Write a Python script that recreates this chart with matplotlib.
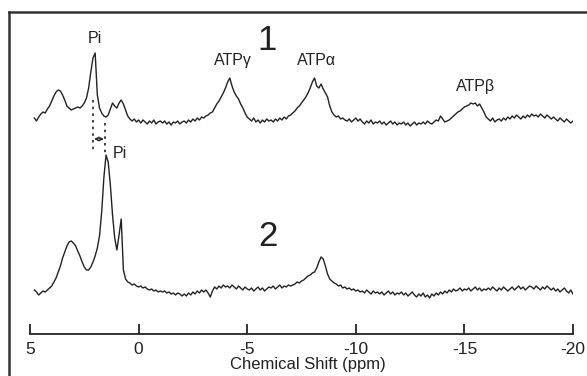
import matplotlib
matplotlib.use("Agg")
import matplotlib.pyplot as plt
import numpy as np
from matplotlib.lines import Line2D

plt.rcParams['font.family'] = ['Liberation Sans', 'DejaVu Sans']
plt.rcParams['axes.unicode_minus'] = False

# chemical shift range of the two traces (ppm), sampled every 0.1 ppm
ppm_start, ppm_end = 4.8, -20.0

# trace 1 intensity (arbitrary units, includes vertical offset)
trace1 = [
    216, 213, 217, 220, 222, 221, 225, 228, 233,
    238, 242, 244, 243, 239, 234, 228, 226, 224, 225,
    226, 227, 226, 228, 231, 236, 246, 262, 276, 281,
    239, 226, 221, 218, 217, 219, 225, 231, 228, 226,
    231, 234, 230, 224, 218, 215, 213, 215, 212, 214,
    211, 214, 212, 210, 213, 211, 214, 210, 212, 213,
    211, 213, 210, 212, 209, 212, 211, 213, 210, 212,
    213, 211, 214, 212, 215, 213, 216, 214, 217, 216,
    218, 219, 221, 222, 226, 230, 233, 237, 241, 246,
    252, 256, 248, 242, 238, 235, 230, 226, 221, 217,
    215, 213, 216, 212, 214, 211, 214, 212, 215, 213,
    214, 212, 215, 213, 216, 214, 217, 215, 218, 219,
    221, 223, 226, 228, 231, 234, 237, 241, 246, 252,
    256, 248, 246, 250, 245, 241, 237, 228, 222, 219,
    217, 218, 215, 216, 214, 213, 215, 212, 214, 216,
    213, 215, 212, 210, 213, 211, 214, 210, 212, 211,
    213, 210, 212, 209, 211, 213, 210, 212, 209, 211,
    210, 212, 209, 211, 208, 210, 212, 209, 211, 210,
    212, 210, 213, 211, 210, 212, 214, 213, 218, 215,
    212, 213, 214, 216, 218, 220, 222, 223, 225, 227,
    228, 229, 231, 230, 231, 228, 230, 226, 222, 217,
    215, 213, 216, 212, 214, 215, 213, 216, 214, 217,
    215, 218, 216, 219, 217, 215, 218, 216, 219, 217,
    220, 218, 219, 217, 220, 218, 216, 219, 217, 215,
    217, 215, 213, 216, 214, 212, 215, 213, 211, 213,
]

# trace 2 intensity
trace2 = [
    44, 42, 39, 41, 43, 42, 44, 46, 48,
    52, 56, 62, 68, 76, 82, 88, 92, 93, 91,
    88, 83, 78, 72, 67, 64, 64, 67, 72, 78,
    86, 98, 122, 156, 179, 172, 149, 119, 96, 84,
    99, 115, 64, 55, 52, 51, 49, 50, 48, 47,
    48, 46, 47, 45, 44, 45, 43, 44, 42, 43,
    42, 43, 41, 42, 40, 41, 39, 41, 40, 38,
    40, 38, 41, 39, 42, 40, 43, 41, 44, 42,
    44, 41, 37, 43, 47, 45, 48, 46, 49, 47,
    48, 46, 49, 47, 45, 48, 46, 44, 47, 45,
    44, 46, 43, 45, 47, 44, 46, 43, 45, 47,
    46, 48, 45, 47, 49, 46, 48, 47, 49, 48,
    49, 50, 52, 51, 53, 54, 56, 58, 59, 61,
    62, 66, 72, 77, 75, 68, 60, 55, 53, 51,
    50, 48, 49, 46, 47, 45, 46, 44, 45, 43,
    44, 42, 43, 41, 44, 42, 40, 43, 41, 42,
    40, 42, 39, 41, 43, 40, 42, 39, 41, 40,
    42, 39, 41, 38, 40, 42, 39, 37, 40, 38,
    41, 37, 39, 36, 40, 38, 41, 39, 42, 40,
    43, 41, 44, 42, 45, 43, 44, 46, 43, 45,
    44, 46, 43, 45, 47, 44, 46, 43, 45, 44,
    46, 44, 47, 45, 43, 46, 44, 47, 45, 43,
    45, 47, 44, 46, 48, 45, 47, 44, 46, 48,
    47, 45, 48, 46, 44, 47, 45, 48, 46, 44,
    46, 43, 45, 42, 44, 46, 43, 41, 44, 40,
]

xticks = [5, 0, -5, -10, -15, -20]

# peak labels: (text, ppm, height)
peak_labels = [
    ("Pi", 2.0, 296),
    ("ATPγ", -4.35, 274),
    ("ATPα", -8.2, 274),
    ("ATPβ", -15.5, 247),
    ("Pi", 0.85, 181),
]
trace_labels = [("1", -5.9, 294), ("2", -5.95, 97)]

x1 = np.linspace(ppm_start, ppm_end, len(trace1))
x2 = np.linspace(ppm_start, ppm_end, len(trace2))

fig = plt.figure(figsize=(5.87, 3.76), dpi=100)
ax = fig.add_axes([30 / 587, 42 / 376, 543 / 587, 322 / 376])

ink = '#222222'
ax.plot(x1, trace1, color=ink, lw=1.0)
ax.plot(x2, trace2, color=ink, lw=1.0)

ax.set_xlim(5, -20)
ax.set_ylim(0, 322)

for s in ['left', 'top', 'right']:
    ax.spines[s].set_visible(False)
ax.spines['bottom'].set_bounds(5, -20)
ax.spines['bottom'].set_color(ink)
ax.spines['bottom'].set_linewidth(1.3)
ax.set_yticks([])
ax.set_xticks(xticks)
ax.set_xticklabels([str(t) for t in xticks])
ax.tick_params(axis='x', direction='in', length=7, width=1.3, color=ink,
               labelsize=12.5, labelcolor=ink, pad=6)
ax.set_xlabel('Chemical Shift (ppm)', fontsize=12, color=ink)
ax.xaxis.set_label_coords(278 / 543, -0.072)

for txt, px, py in peak_labels:
    ax.text(px, py, txt, ha='center', va='center', fontsize=11.5, color=ink)
for txt, px, py in trace_labels:
    ax.text(px, py, txt, ha='center', va='center', fontsize=25, color=ink)

# dotted guides and shift arrow between the two Pi peaks
ax.plot([2.1, 2.1], [234, 181], color=ink, lw=1.2, ls=(0, (1.5, 2.5)))
ax.plot([1.55, 1.55], [211, 179], color=ink, lw=1.2, ls=(0, (1.5, 2.5)))
ax.annotate('', xy=(1.6, 195), xytext=(2.05, 195),
            arrowprops=dict(arrowstyle='<->', color=ink, lw=0.9,
                            mutation_scale=6, shrinkA=0, shrinkB=0))

# outer frame (left and top edges visible)
fig.add_artist(Line2D([9 / 587, 9 / 587], [0, 1 - 12 / 376],
                      color='#333333', lw=1.8, transform=fig.transFigure))
fig.add_artist(Line2D([9 / 587, 1], [1 - 12 / 376, 1 - 12 / 376],
                      color='#333333', lw=1.8, transform=fig.transFigure))

fig.savefig('out.png', dpi=100)
